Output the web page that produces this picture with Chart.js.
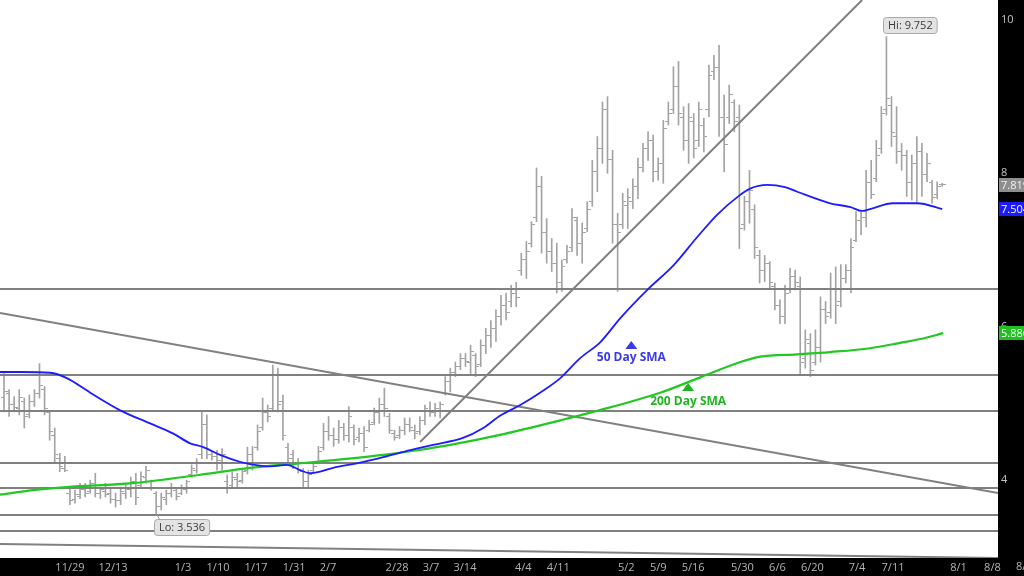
<!DOCTYPE html>
<html><head><meta charset="utf-8">
<script src="https://cdn.jsdelivr.net/npm/chart.js@4.4.1/dist/chart.umd.min.js"></script>
<style>html,body{margin:0;padding:0;background:#000;}#wrap{width:1024px;height:576px;position:relative;}</style>
</head><body><div id="wrap"><canvas id="c"></canvas></div>
<script>
// ---- data ----
const highs = [5.36,5.15,5.06,5.15,5.04,5.08,5.15,5.49,5.19,4.88,
4.65,4.32,4.28,3.86,3.84,3.93,3.93,3.97,4.06,3.88,
3.93,3.86,3.80,3.88,3.93,4.01,4.06,4.08,4.15,3.97,
3.82,3.80,3.84,3.93,3.86,3.91,3.97,4.17,4.25,4.86,
4.82,4.34,4.36,4.38,4.04,4.08,4.06,4.12,4.40,4.41,
4.69,5.04,4.95,5.47,5.43,5.08,4.45,4.36,4.25,4.12,
4.10,4.21,4.41,4.71,4.80,4.65,4.75,4.71,4.93,4.69,
4.65,4.67,4.75,4.91,5.04,5.17,4.84,4.62,4.67,4.78,
4.78,4.69,4.80,4.95,4.99,4.97,4.99,5.32,5.43,5.51,
5.62,5.62,5.73,5.62,5.80,5.95,6.05,6.19,6.38,6.41,
6.51,6.55,6.93,7.08,7.34,8.04,7.93,7.38,7.12,7.06,
6.84,7.03,7.51,7.40,7.32,7.60,8.14,8.45,8.90,8.97,
8.27,7.45,7.71,7.77,7.90,8.17,8.36,8.51,8.47,8.17,
8.66,8.90,9.36,9.43,8.84,8.88,8.75,8.90,8.69,9.38,
9.51,9.64,8.99,9.12,8.93,8.86,7.67,8.01,7.56,6.97,
6.90,6.82,6.54,6.32,6.51,6.73,6.71,6.62,5.93,5.88,
5.93,6.36,6.30,6.67,6.75,6.78,6.78,7.12,7.47,7.47,
8.01,8.14,8.40,8.84,9.752,8.97,8.84,8.36,8.27,8.21,
8.45,8.36,8.23,7.88,7.86,7.84];
const lows = [4.86,4.80,4.86,4.82,4.65,4.78,4.93,5.04,4.82,4.49,
4.21,4.08,4.08,3.65,3.67,3.73,3.75,3.80,3.75,3.73,
3.75,3.67,3.62,3.65,3.73,3.75,3.65,3.88,3.93,3.84,
3.536,3.58,3.65,3.75,3.71,3.78,3.80,4.01,4.06,4.25,
4.25,4.23,4.10,4.10,3.80,3.86,3.88,3.93,4.05,4.10,
4.36,4.62,4.73,4.88,4.86,4.49,4.21,4.12,4.06,3.88,
3.88,4.08,4.19,4.36,4.49,4.41,4.45,4.49,4.47,4.43,
4.47,4.34,4.60,4.69,4.71,4.80,4.58,4.49,4.51,4.56,
4.60,4.51,4.56,4.69,4.80,4.80,4.78,5.08,5.12,5.32,
5.41,5.45,5.36,5.32,5.45,5.62,5.70,5.78,5.99,6.06,
6.23,6.23,6.64,6.60,7.01,7.34,6.93,6.80,6.69,6.41,
6.43,6.80,6.95,6.90,6.80,7.21,7.54,7.73,8.10,7.97,
7.06,6.43,7.25,7.25,7.51,7.64,7.99,8.14,7.86,7.88,
7.84,8.60,8.75,8.60,8.27,8.10,8.17,8.32,8.25,8.71,
9.19,8.45,7.99,8.62,8.51,6.99,7.23,7.32,6.86,6.54,
6.56,6.47,6.19,6.01,6.01,6.41,6.45,5.36,5.43,5.32,
5.47,5.51,6.01,6.08,6.01,6.23,6.54,6.41,7.08,7.17,
7.27,7.64,7.86,8.23,8.73,8.32,8.10,8.01,7.67,7.62,
7.60,7.67,7.86,7.58,7.64,7.80];
const opens = [5.05,5.10,4.95,4.90,5.00,4.82,5.00,5.10,5.15,4.85,
4.55,4.25,4.12,3.80,3.72,3.76,3.85,3.82,3.90,3.80,
3.82,3.80,3.72,3.70,3.80,3.85,3.95,3.90,4.00,3.95,
3.80,3.62,3.72,3.80,3.84,3.80,3.85,4.05,4.10,4.30,
4.70,4.30,4.28,4.20,3.95,3.90,3.98,3.96,4.10,4.30,
4.40,4.65,4.85,4.90,5.35,5.00,4.40,4.30,4.20,4.08,
3.95,4.10,4.20,4.40,4.60,4.55,4.50,4.65,4.55,4.65,
4.52,4.58,4.62,4.72,4.85,4.95,4.80,4.58,4.55,4.62,
4.70,4.62,4.60,4.75,4.88,4.85,4.88,5.10,5.25,5.38,
5.45,5.55,5.50,5.60,5.48,5.72,5.85,5.95,6.10,6.25,
6.30,6.40,6.70,6.85,7.05,7.40,7.80,7.20,6.95,6.80,
6.55,6.85,7.00,7.35,7.05,7.25,7.60,8.00,8.30,8.80,
8.15,7.30,7.30,7.55,7.60,7.80,8.05,8.30,8.40,8.00,
8.10,8.65,8.80,9.10,8.70,8.40,8.65,8.40,8.60,8.80,
9.30,9.35,8.70,8.70,8.90,8.70,7.30,7.60,7.50,6.90,
6.70,6.80,6.50,6.25,6.10,6.45,6.62,6.50,5.55,5.75,
5.50,5.70,6.20,6.15,6.45,6.30,6.60,6.70,7.10,7.35,
7.40,7.85,7.90,8.30,8.80,8.85,8.45,8.25,8.20,7.85,
8.10,8.25,7.95,7.85,7.70,7.82];
const closes = [5.12,4.95,4.92,5.05,4.80,5.00,5.10,5.20,4.90,4.60,
4.30,4.15,4.10,3.70,3.78,3.85,3.80,3.92,3.80,3.85,
3.78,3.72,3.70,3.82,3.88,3.95,3.75,4.02,4.10,3.88,
3.62,3.75,3.80,3.88,3.76,3.86,3.95,4.12,4.20,4.70,
4.30,4.28,4.22,4.30,3.88,4.00,3.95,4.08,4.30,4.20,
4.60,4.85,4.80,5.35,4.95,4.55,4.25,4.18,4.10,3.95,
4.05,4.15,4.35,4.60,4.55,4.50,4.65,4.55,4.80,4.50,
4.58,4.40,4.70,4.85,4.95,4.90,4.62,4.52,4.62,4.70,
4.65,4.58,4.75,4.90,4.85,4.90,4.95,5.25,5.38,5.45,
5.55,5.52,5.65,5.45,5.72,5.85,5.95,6.10,6.25,6.15,
6.40,6.35,6.85,6.95,7.30,7.80,7.20,6.95,6.80,6.55,
6.75,6.95,7.40,7.05,7.20,7.50,8.00,8.30,8.80,8.15,
7.30,7.20,7.60,7.65,7.80,8.05,8.30,8.40,8.00,8.10,
8.55,8.75,9.10,8.75,8.40,8.70,8.30,8.80,8.45,9.25,
9.35,8.70,8.35,9.00,8.65,7.25,7.60,7.75,7.00,6.70,
6.80,6.55,6.25,6.10,6.40,6.62,6.55,5.50,5.80,5.40,
5.70,6.20,6.10,6.45,6.25,6.60,6.70,7.00,7.35,7.40,
7.85,7.70,8.20,8.75,8.95,8.50,8.25,8.20,7.85,8.10,
8.25,7.95,8.10,7.65,7.80,7.819];

// 50-day and 200-day SMA (bar position, value)
const sma50Pos = [-0.8,3.2,9.1,12.4,17.0,22.9,28.8,33.3,36.7,39.3,42.6,46.5,48.5,52.5,55.8,58.4,60.4,62.3,64.9,69.6,74.8,80.1,84.6,90.5,94.5,97.8,101.8,105.7,109.7,113.6,117.6,121.5,127.0,132.0,136.7,140.6,144.6,147.1,150.5,154.0,156.4,162.9,166.9,169.2,170.8,175.3,180.1,185.0];
const sma50Val = [5.38,5.38,5.37,5.30,5.11,4.88,4.71,4.58,4.45,4.40,4.30,4.21,4.18,4.15,4.17,4.10,4.06,4.08,4.13,4.19,4.27,4.36,4.43,4.52,4.65,4.81,4.95,5.11,5.30,5.56,5.77,6.08,6.46,6.77,7.14,7.43,7.66,7.77,7.82,7.79,7.73,7.58,7.53,7.48,7.505,7.58,7.58,7.504];
const sma200Pos = [-0.8,5.7,12.4,25.4,38.7,48.5,61.7,74.8,81.5,88.0,97.8,109.7,116.2,129.4,137.3,145.2,149.1,156.4,162.9,170.8,176.7,180.7,185.2];
const sma200Val = [3.78,3.84,3.88,3.93,4.04,4.13,4.21,4.30,4.36,4.43,4.56,4.75,4.86,5.11,5.31,5.51,5.58,5.61,5.64,5.69,5.76,5.81,5.886];

// support / resistance levels and trendlines [pos1, price1, pos2, price2]
const levels = [6.461, 5.340, 4.871, 4.193, 3.867, 3.515, 3.306];
const trendlines = [[-0.79, 6.149, 196.0, 3.802], [82.05, 4.467, 169.2, 10.23], [-0.79, 3.137, 196.0, 2.955]];

// axis ticks
const tickPos = [13.0,21.5,35.3,42.2,49.7,57.2,63.9,77.5,84.2,90.9,102.4,109.3,122.7,129.0,135.9,145.6,152.5,159.4,168.2,175.3,188.2,194.9,201.8];
const tickLabels = ['11/29','12/13','1/3','1/10','1/17','1/31','2/7','2/28','3/7','3/14','4/4','4/11','5/2','5/9','5/16','5/30','6/6','6/20','7/4','7/11','8/1','8/8','8/15'];
const yTicks = [4, 6, 8, 10];

const smaNotes = [
  {text: '50 Day SMA', pos: 123.7, price: 5.562, color: '#3a3ae6'},
  {text: '200 Day SMA', pos: 134.9, price: 4.988, color: '#20b520'}
];

// ---- styles ----
const X_MIN = -0.79, X_MAX = 196.0, Y_MIN = 2.955, Y_MAX = 10.23;
const BAR_COLOR = '#a3a3a3';
const LINE_GRAY = '#808080';
const BLUE = '#1c1cff';
const GREEN = '#22c822';
const FONT = '"Open Sans", "DejaVu Sans", sans-serif';
Chart.defaults.font.family = FONT;

function tickImg(left) {
  const c = document.createElement('canvas');
  c.width = 7; c.height = 1;
  const g = c.getContext('2d');
  g.fillStyle = BAR_COLOR;
  g.fillRect(left ? 0 : 4, 0, 3, 1);
  return c;
}
const openImg = tickImg(true), closeImg = tickImg(false);

const datasets = [];
datasets.push({type: 'line', data: sma50Pos.map((p, i) => ({x: p, y: sma50Val[i]})), borderColor: BLUE, borderWidth: 1.8, pointRadius: 0, cubicInterpolationMode: 'monotone', order: 1});
datasets.push({type: 'line', data: sma200Pos.map((p, i) => ({x: p, y: sma200Val[i]})), borderColor: GREEN, borderWidth: 2.2, pointRadius: 0, cubicInterpolationMode: 'monotone', order: 1});
levels.forEach(v => datasets.push({type: 'line', data: [{x: X_MIN, y: v}, {x: X_MAX, y: v}], borderColor: LINE_GRAY, borderWidth: 2, pointRadius: 0, order: 2}));
trendlines.forEach(t => datasets.push({type: 'line', data: [{x: t[0], y: t[1]}, {x: t[2], y: t[3]}], borderColor: LINE_GRAY, borderWidth: 2, pointRadius: 0, order: 2}));
datasets.push({type: 'line', showLine: false, data: opens.map((v, i) => ({x: i, y: v})), pointStyle: openImg, pointRadius: 3, order: 3});
datasets.push({type: 'line', showLine: false, data: closes.map((v, i) => ({x: i, y: v})), pointStyle: closeImg, pointRadius: 3, order: 3});
datasets.push({type: 'bar', data: highs.map((h, i) => ({x: i, y: [lows[i], h]})), backgroundColor: BAR_COLOR, borderWidth: 0, barThickness: 1, grouped: false, order: 4});

function roundRect(ctx, x, y, w, h, r) {
  ctx.beginPath();
  ctx.moveTo(x + r, y); ctx.lineTo(x + w - r, y); ctx.quadraticCurveTo(x + w, y, x + w, y + r);
  ctx.lineTo(x + w, y + h - r); ctx.quadraticCurveTo(x + w, y + h, x + w - r, y + h);
  ctx.lineTo(x + r, y + h); ctx.quadraticCurveTo(x, y + h, x, y + h - r);
  ctx.lineTo(x, y + r); ctx.quadraticCurveTo(x, y, x + r, y); ctx.closePath();
}
function calloutBox(ctx, text, left, top) {
  ctx.font = '11px ' + FONT;
  const w = ctx.measureText(text).width + 9, h = 16;
  roundRect(ctx, left + 0.5, top + 0.5, w, h, 3);
  ctx.fillStyle = '#e3e3e3'; ctx.fill();
  ctx.strokeStyle = '#a9a9a9'; ctx.lineWidth = 1; ctx.stroke();
  ctx.fillStyle = '#3a3a3a'; ctx.textAlign = 'left'; ctx.textBaseline = 'middle';
  ctx.fillText(text, left + 5, top + h / 2 + 1);
}

const deco = {
  id: 'deco',
  beforeDraw(chart) {
    const {ctx, chartArea: a} = chart;
    ctx.save();
    ctx.fillStyle = '#000'; ctx.fillRect(0, 0, chart.width, chart.height);
    ctx.fillStyle = '#fff'; ctx.fillRect(a.left, a.top, a.right - a.left, a.bottom - a.top);
    ctx.restore();
  },
  afterDatasetsDraw(chart) {
    const {ctx} = chart; const xs = chart.scales.x, ys = chart.scales.y;
    ctx.save();
    smaNotes.forEach((n, k) => {
      const px = xs.getPixelForValue(n.pos), py = ys.getPixelForValue(n.price);
      ctx.fillStyle = n.color;
      const apex = k === 0 ? 17 : 19, base = k === 0 ? 9 : 11;
      ctx.beginPath(); ctx.moveTo(px, py - apex); ctx.lineTo(px - 6, py - base); ctx.lineTo(px + 6, py - base); ctx.closePath(); ctx.fill();
      ctx.font = 'bold 12px ' + FONT; ctx.textAlign = 'center'; ctx.textBaseline = 'middle';
      ctx.fillText(n.text, px, py);
    });
    // Hi / Lo callouts
    const hi = Math.max(...highs), hiI = highs.indexOf(hi);
    const lo = Math.min(...lows), loI = lows.indexOf(lo);
    const hx = xs.getPixelForValue(hiI), hy = ys.getPixelForValue(hi);
    calloutBox(ctx, 'Hi: ' + hi.toFixed(3), Math.round(hx) - 3, Math.round(hy) - 20);
    const lx = xs.getPixelForValue(loI), ly = ys.getPixelForValue(lo);
    ctx.strokeStyle = '#999'; ctx.lineWidth = 1;
    ctx.beginPath(); ctx.moveTo(lx, ly); ctx.lineTo(lx + 4, ly + 7); ctx.stroke();
    calloutBox(ctx, 'Lo: ' + lo.toFixed(3), Math.round(lx) - 2, Math.round(ly) + 6);
    ctx.restore();
  },
  afterDraw(chart) {
    const {ctx} = chart; const xs = chart.scales.x, ys = chart.scales.y;
    ctx.save();
    const tags = [
      {v: closes[closes.length - 1], bg: '#8e8e8e', fg: '#f0f0f0'},
      {v: sma50Val[sma50Val.length - 1], bg: BLUE, fg: '#ffffff'},
      {v: sma200Val[sma200Val.length - 1], bg: '#1fc01f', fg: '#ffffff'}
    ];
    ctx.font = '11px ' + FONT; ctx.textAlign = 'left'; ctx.textBaseline = 'middle';
    tags.forEach(t => {
      const py = Math.round(ys.getPixelForValue(t.v));
      ctx.fillStyle = t.bg; ctx.fillRect(999, py - 7, 30, 14);
      ctx.fillStyle = t.fg; ctx.fillText(t.v.toFixed(3), 1001, py + 1);
    });
    // tick labels that fall beyond the axis end
    ctx.fillStyle = '#b4b4b4'; ctx.textAlign = 'center'; ctx.textBaseline = 'top';
    tickPos.forEach((p, i) => { if (p > X_MAX) ctx.fillText(tickLabels[i], xs.getPixelForValue(p), 561); });
    ctx.restore();
  }
};

new Chart(document.getElementById('c'), {
  type: 'bar',
  data: {datasets},
  options: {
    responsive: true, maintainAspectRatio: false, animation: false, devicePixelRatio: 1,
    layout: {padding: 0, autoPadding: false},
    plugins: {legend: {display: false}, tooltip: {enabled: false}},
    scales: {
      x: {
        type: 'linear', min: X_MIN, max: X_MAX, offset: false,
        grid: {display: false, drawTicks: false}, border: {display: false},
        afterBuildTicks: s => { s.ticks = tickPos.filter(p => p <= X_MAX).map(p => ({value: p})); },
        afterFit: s => { s.height = 18; s.paddingLeft = 0; s.paddingRight = 0; },
        ticks: {autoSkip: false, maxRotation: 0, padding: 3, color: '#b4b4b4', font: {size: 11},
          callback: v => tickLabels[tickPos.indexOf(v)]}
      },
      y: {
        position: 'right', min: Y_MIN, max: Y_MAX,
        grid: {display: false, drawTicks: false}, border: {display: false},
        afterBuildTicks: s => { s.ticks = yTicks.map(v => ({value: v})); },
        afterFit: s => { s.width = 26; s.paddingTop = 0; s.paddingBottom = 0; },
        ticks: {padding: 3, labelOffset: 2, color: '#c4c4c4', font: {size: 11}, callback: v => String(v)}
      }
    }
  },
  plugins: [deco]
});
</script>
</body></html>
